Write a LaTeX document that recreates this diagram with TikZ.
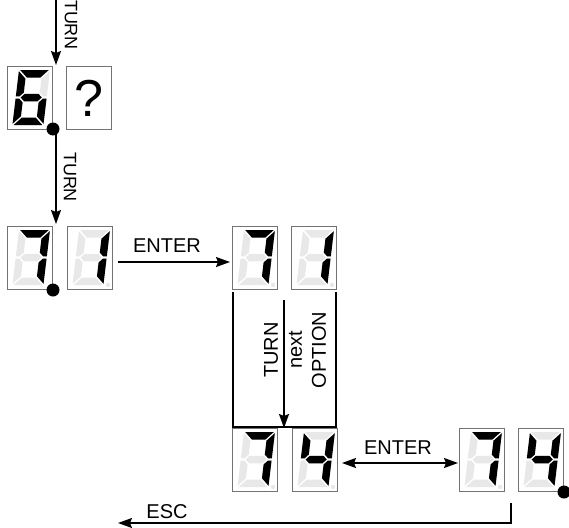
\documentclass[tikz,border=0pt]{standalone}
\usepackage{fontspec}
\setmainfont{Liberation Sans}
\usetikzlibrary{arrows.meta}
\definecolor{segoff}{gray}{0.91}
\definecolor{boxline}{gray}{0.45}
\def\sw{31}\def\sh{55}\def\st{7.5}\def\sg{1.2}\def\sm{27.5}
\newcommand\sega{(\sg,0) -- ({\sw-\sg},0) -- ({\sw-\st-\sg},\st) -- ({\st+\sg},\st) -- cycle}
\newcommand\segd{(\sg,\sh) -- ({\sw-\sg},\sh) -- ({\sw-\st-\sg},{\sh-\st}) -- ({\st+\sg},{\sh-\st}) -- cycle}
\newcommand\segg{({\st/2+\sg},\sm) -- ({\st+\sg},{\sm-\st/2}) -- ({\sw-\st-\sg},{\sm-\st/2}) -- ({\sw-\st/2-\sg},\sm) -- ({\sw-\st-\sg},{\sm+\st/2}) -- ({\st+\sg},{\sm+\st/2}) -- cycle}
\newcommand\segf{(0,\sg) -- (\st,{\st+\sg}) -- (\st,{\sm-\st/2-\sg}) -- ({\st/2},{\sm-\sg}) -- (0,{\sm-\sg}) -- cycle}
\newcommand\sege{(0,{\sm+\sg}) -- ({\st/2},{\sm+\sg}) -- (\st,{\sm+\st/2+\sg}) -- (\st,{\sh-\st-\sg}) -- (0,{\sh-\sg}) -- cycle}
\newcommand\segb{(\sw,\sg) -- ({\sw-\st},{\st+\sg}) -- ({\sw-\st},{\sm-\st/2-\sg}) -- ({\sw-\st/2},{\sm-\sg}) -- (\sw,{\sm-\sg}) -- cycle}
\newcommand\segc{(\sw,{\sm+\sg}) -- ({\sw-\st/2},{\sm+\sg}) -- ({\sw-\st},{\sm+\st/2+\sg}) -- ({\sw-\st},{\sh-\st-\sg}) -- (\sw,{\sh-\sg}) -- cycle}
\newcommand\drawseg[2]{\fill[#2] #1;}
\tikzset{
  dbox/.style={draw=boxline, line width=0.8pt, minimum width=45pt, minimum height=63pt, inner sep=0pt, anchor=north west},
  pics/segs/.style={code={
    \begin{scope}[shift={(12,4)}, xslant=0.12]
      \foreach \s in {a,b,c,d,e,f,g} {\expandafter\drawseg\csname seg\s\endcsname{segoff}}
      \foreach \s in {#1} {\expandafter\drawseg\csname seg\s\endcsname{black}}
    \end{scope}
  }},
  gdp/.style={fill=segoff, circle, inner sep=0pt, minimum size=4.4pt},
  bigdot/.style={fill=black, circle, inner sep=0pt, minimum size=13pt},
  arr/.style={line width=1.6pt, -{Stealth[length=14pt,width=10pt,inset=2pt]}},
  darr/.style={line width=1.6pt, {Stealth[length=14pt,width=10pt,inset=2pt]}-{Stealth[length=14pt,width=10pt,inset=2pt]}},
  bline/.style={line width=1.6pt},
  lbl/.style={font=\fontsize{20}{24}\selectfont, inner sep=0pt},
  slbl/.style={font=\fontsize{18}{20}\selectfont, inner sep=0pt},
}
\begin{document}
\begin{tikzpicture}[x=1pt,y=-1pt]
\useasboundingbox (0,0) rectangle (569,527);
% row 1
\node[dbox] (b6) at (7,66) {};
\pic at (b6.north west) {segs={a,c,d,e,f,g}};
\node[dbox] (bq) at (66,66) {};
\node[font=\fontsize{52}{52}\selectfont, inner sep=0pt] (q) at (bq.center) {?};
\node[bigdot] (dot1) at (53,129) {};
% row 2
\node[dbox] (b7a) at (7,226) {};
\pic at (b7a.north west) {segs={a,b,c}};
\node[dbox] (b1a) at (67,226) {};
\pic at (b1a.north west) {segs={b,c}};
\node[gdp] (dp1) at (108,285) {};
\node[bigdot] (dot2) at (53,290) {};
\node[dbox] (b7b) at (232,226) {};
\pic at (b7b.north west) {segs={a,b,c}};
\node[gdp] (dp2) at (273,285) {};
\node[dbox] (b1b) at (291,226) {};
\pic at (b1b.north west) {segs={b,c}};
\node[gdp] (dp3) at (332,285) {};
% row 3
\node[dbox] (b7c) at (232,428) {};
\pic at (b7c.north west) {segs={a,b,c}};
\node[gdp] (dp4) at (273,487) {};
\node[dbox] (b4c) at (292,428) {};
\pic at (b4c.north west) {segs={b,c,f,g}};
\node[gdp] (dp5) at (333,487) {};
\node[dbox] (b7d) at (459,428) {};
\pic at (b7d.north west) {segs={a,b,c}};
\node[gdp] (dp6) at (500,487) {};
\node[dbox] (b4d) at (518,428) {};
\pic at (b4d.north west) {segs={b,c,f,g}};
\node[bigdot] (dot3) at (564,492) {};
% connectors
\coordinate (t0) at (56,0);
\coordinate (t1) at (56,65);
\draw[arr] (t0) -- (t1);
\node[slbl, rotate=-90] (turn1) at (71,25) {TURN};
\coordinate (t1b) at (56,134);
\coordinate (t2) at (56,224);
\draw[arr] (t1b) -- (t2);
\node[slbl, rotate=-90] (turn2) at (70,177) {TURN};
\coordinate (e0) at (118,262);
\coordinate (e1) at (230,262);
\draw[arr] (e0) -- (e1);
\node[lbl] (ent1) at (167,246) {ENTER};
\coordinate (l0) at (233,292);
\coordinate (l1) at (233,427);
\coordinate (r1) at (336,427);
\coordinate (r0) at (336,292);
\draw[bline] (l0) -- (l1) -- (r1) -- (r0);
\coordinate (m0) at (284,300);
\coordinate (m1) at (284,428);
\draw[arr] (m0) -- (m1);
\node[lbl, rotate=90, align=center] (opt) at (295,350) {TURN\\next\\OPTION};
\coordinate (d0) at (342,463);
\coordinate (d1) at (458,463);
\draw[darr] (d0) -- (d1);
\node[lbl] (ent2) at (398,448) {ENTER};
\coordinate (s0) at (511,503);
\coordinate (s1) at (511,523);
\coordinate (s2) at (118,523);
\draw[arr] (s0) -- (s1) -- (s2);
\node[lbl] (esc) at (167,512) {ESC};
\end{tikzpicture}
\end{document}
